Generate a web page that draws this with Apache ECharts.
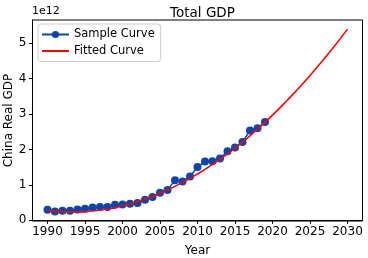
<!DOCTYPE html>
<html>
<head>
<meta charset="utf-8">
<script src="https://cdn.jsdelivr.net/npm/echarts@6/dist/echarts.min.js"></script>
<style>
  html, body { margin: 0; padding: 0; background: #fff; }
  #chart { width: 368px; height: 258px; }
</style>
</head>
<body>
<div id="chart"></div>
<script>
// sample points, values in units of 1e12
const years = [1990, 1991, 1992, 1993, 1994, 1995, 1996, 1997, 1998, 1999,
  2000, 2001, 2002, 2003, 2004, 2005, 2006, 2007, 2008, 2009,
  2010, 2011, 2012, 2013, 2014, 2015, 2016, 2017, 2018, 2019];
const gdp = [0.30, 0.25, 0.27, 0.27, 0.31, 0.33, 0.36, 0.38, 0.38, 0.44,
  0.45, 0.47, 0.49, 0.58, 0.66, 0.78, 0.86, 1.13, 1.10, 1.24,
  1.51, 1.66, 1.67, 1.75, 1.95, 2.06, 2.21, 2.54, 2.60, 2.78];

const fitYears = [1990, 1992, 1994, 1996, 1998, 2000, 2002, 2004, 2006, 2008,
  2010, 2012, 2014, 2016, 2018, 2020, 2022, 2024, 2026, 2028, 2030];
const fitValues = [0.28, 0.25, 0.24, 0.27, 0.32, 0.41, 0.53, 0.68, 0.86, 1.07,
  1.31, 1.58, 1.88, 2.21, 2.58, 2.97, 3.40, 3.85, 4.34, 4.85, 5.40];

const xTicks = [1990, 1995, 2000, 2005, 2010, 2015, 2020, 2025, 2030];
const yTicks = [0, 1, 2, 3, 4, 5];

const font = "DejaVu Sans";
const chart = echarts.init(document.getElementById("chart"));

chart.setOption({
  animation: false,
  textStyle: { fontFamily: font },
  title: [
    {
      text: "Total GDP",
      left: 197.5,
      top: 1,
      textAlign: "center",
      textStyle: { fontFamily: font, fontSize: 13.5, fontWeight: "normal", color: "#000" }
    },
    {
      text: "1e12",
      left: 32,
      top: 6,
      padding: 0,
      textStyle: { fontFamily: font, fontSize: 11, fontWeight: "normal", color: "#000" }
    }
  ],
  legend: {
    orient: "vertical",
    left: 38,
    top: 24,
    padding: [4, 6, 4, 3],
    itemWidth: 27,
    itemHeight: 9,
    itemGap: 3.5,
    borderColor: "#cccccc",
    borderWidth: 1,
    borderRadius: 3,
    backgroundColor: "rgba(255,255,255,0.8)",
    textStyle: { fontFamily: font, fontSize: 11.5, color: "#000", lineHeight: 13 },
    data: [
      { name: "Sample Curve" },
      { name: "Fitted Curve", itemStyle: { opacity: 0 } }
    ]
  },
  grid: {
    left: 32.5,
    right: 5.5,
    top: 20,
    bottom: 37,
    show: true,
    borderColor: "#000",
    borderWidth: 1,
    containLabel: false,
    outerBoundsMode: "none"
  },
  xAxis: {
    type: "value",
    min: 1988,
    max: 2032,
    name: "Year",
    nameLocation: "middle",
    nameGap: 24,
    nameTextStyle: { fontFamily: font, fontSize: 12, color: "#000" },
    axisLine: { show: true, lineStyle: { color: "#000", width: 1 } },
    axisTick: { show: true, inside: false, length: 3.5, customValues: xTicks, lineStyle: { color: "#000" } },
    axisLabel: {
      customValues: xTicks,
      formatter: (v) => String(v),
      color: "#000",
      fontFamily: font,
      fontSize: 12,
      margin: 5
    },
    splitLine: { show: false }
  },
  yAxis: {
    type: "value",
    min: -0.018,
    max: 5.658,
    name: "China Real GDP",
    nameLocation: "middle",
    nameGap: 18,
    nameMoveOverlap: false,
    nameRotate: 90,
    nameTextStyle: { fontFamily: font, fontSize: 12, color: "#000" },
    axisLine: { show: true, lineStyle: { color: "#000", width: 1 } },
    axisTick: { show: true, inside: false, length: 3.5, customValues: yTicks, lineStyle: { color: "#000" } },
    axisLabel: {
      customValues: yTicks,
      formatter: (v) => String(v),
      color: "#000",
      fontFamily: font,
      fontSize: 12,
      margin: 6
    },
    splitLine: { show: false }
  },
  series: [
    {
      name: "Sample Curve",
      type: "line",
      data: years.map((y, i) => [y, gdp[i]]),
      symbol: "circle",
      symbolSize: 8,
      showAllSymbol: true,
      itemStyle: { color: "#0a46ad" },
      lineStyle: { color: "#0a46ad", width: 1.5 },
      z: 2
    },
    {
      name: "Fitted Curve",
      type: "line",
      data: fitYears.map((y, i) => [y, fitValues[i]]),
      smooth: true,
      symbol: "none",
      itemStyle: { color: "#ff0000" },
      lineStyle: { color: "#ff0000", width: 1.6 },
      z: 3
    }
  ]
});
</script>
</body>
</html>
